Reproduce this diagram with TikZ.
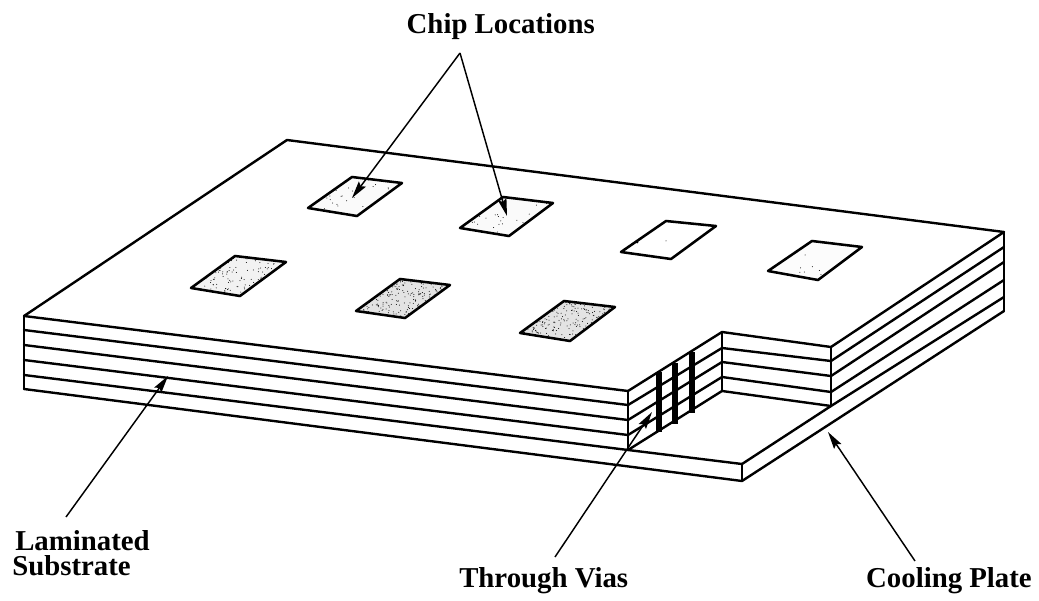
\documentclass[tikz,border=0pt]{standalone}
\usepackage{fontspec}
\setmainfont{Liberation Serif}
\usetikzlibrary{calc,arrows.meta}
\tikzset{
  edgeline/.style={line width=1.8pt,line cap=round,line join=round,black},
  thinline/.style={line width=1.3pt,line cap=round,black},
  viabar/.style={line width=3.8pt,black},
  chipbox/.style={line width=1.9pt,line join=round,black},
  pointer/.style={line width=1.1pt,-{Stealth[length=13pt,width=6.5pt,inset=2pt]},black},
  labeltext/.style={font=\bfseries\fontsize{21.6}{18.75}\selectfont,inner sep=0pt,black},
}
\newcommand{\chipshape}[6]{%
  \coordinate (#1a) at #2; \coordinate (#1b) at #3; \coordinate (#1c) at #4; \coordinate (#1d) at #5;
  \fill[black!#6] (#1a)--(#1b)--(#1c)--(#1d)--cycle;
}
\newcommand{\chipdots}[2]{%
  \foreach \i in {1,...,#2}{%
    \pgfmathsetmacro\uu{rnd}\pgfmathsetmacro\vv{rnd}%
    \fill[black] ($(#1a)+\uu*(#1b)-\uu*(#1a)+\vv*(#1d)-\vv*(#1a)$) circle (0.5);
  }%
  \draw[chipbox] (#1a)--(#1b)--(#1c)--(#1d)--cycle;
}
\begin{document}
\begin{tikzpicture}[x=0.75pt,y=-0.75pt]
\useasboundingbox (0,0) rectangle (1039,600);
\fill[white] (0,0) rectangle (1039,600);
\pgfmathsetseed{4242}

% left edge levels
\coordinate (L0) at (24,316); \coordinate (L1) at (24,330); \coordinate (L2) at (24,345);
\coordinate (L3) at (24,360); \coordinate (L4) at (24,375); \coordinate (L5) at (24,389);
% front corner levels
\coordinate (F0) at (628,391); \coordinate (F1) at (628,405); \coordinate (F2) at (628,420);
\coordinate (F3) at (628,435); \coordinate (F4) at (628,450);
% notch inner levels
\coordinate (E0) at (722,332); \coordinate (E1) at (722,348); \coordinate (E2) at (722,362);
\coordinate (E3) at (722,377); \coordinate (E4) at (722,391);
% notch right levels
\coordinate (D0) at (831,347); \coordinate (D1) at (831,361); \coordinate (D2) at (831,376);
\coordinate (D3) at (831,392); \coordinate (D4) at (831,406);
% right edge levels
\coordinate (C0) at (1004,232); \coordinate (C1) at (1004,247); \coordinate (C2) at (1004,262);
\coordinate (C3) at (1004,280); \coordinate (C4) at (1004,297); \coordinate (C5) at (1004,311);
% others
\coordinate (B) at (287,140);
\coordinate (P1) at (742,464); \coordinate (P2) at (742,481);

% top face outline
\draw[edgeline] (L0)--(B)--(C0)--(D0)--(E0)--(F0)--cycle;
% layers: left block
\foreach \n/\m in {1/1,2/2,3/3}{\draw[edgeline] (L\n)--(F\m);}
\draw[edgeline] (L4)--(F4)--(P1);
\draw[edgeline] (L5)--(P2)--(C5);
\draw[edgeline] (L0)--(L5);
\draw[thinline] (F0)--(F4);
\draw[thinline] (P1)--(P2);
% notch walls
\foreach \n in {1,2,3,4}{\draw[edgeline] (F\n)--(E\n)--(D\n)--(C\n);}
\draw[thinline] (E0)--(E4);
\draw[thinline] (D0)--(D4);
\draw[edgeline] (C0)--(C5);
\draw[edgeline] (D4)--(P1);

% vias
\coordinate (V1a) at (659,372); \coordinate (V1b) at (659,432);
\coordinate (V2a) at (675,363); \coordinate (V2b) at (675,424);
\coordinate (V3a) at (692,352); \coordinate (V3b) at (692,413);
\draw[viabar] (V1a)--(V1b); \draw[viabar] (V2a)--(V2b); \draw[viabar] (V3a)--(V3b);

% chip sites
\chipshape{ca}{(352,177)}{(402,183)}{(357,216)}{(308,208)}{2}
\chipshape{cb}{(503,197)}{(553,203)}{(509,236)}{(460,228)}{2}
\chipshape{cc}{(666,221)}{(716,226)}{(671,259)}{(621,252)}{0}
\chipshape{cd}{(812,241)}{(862,247)}{(818,280)}{(768,271)}{1}
\chipshape{ce}{(235,256)}{(286,262)}{(240,296)}{(191,288)}{5}
\chipshape{cf}{(400,279)}{(450,285)}{(405,318)}{(356,311)}{11}
\chipshape{cg}{(564,301)}{(615,307)}{(570,341)}{(520,333)}{11}
\chipdots{ca}{25}\chipdots{cb}{25}\chipdots{cc}{1}\chipdots{cd}{8}
\chipdots{ce}{90}\chipdots{cf}{150}\chipdots{cg}{150}
\fill[black] (637,242) circle (1.5);

% labels
\node[labeltext,anchor=base east] (chiploc) at (595,33) {Chip Locations};
\node[labeltext,anchor=south west,align=left] (lam) at (12,576) {\hspace*{2.25pt}Laminated\\Substrate};
\node[labeltext,anchor=base west] (vias) at (459,587) {Through Vias};
\node[labeltext,anchor=base east] (cool) at (1032,587) {Cooling Plate};

% pointers
\coordinate (cstart) at (460,53);
\coordinate (ctipa) at (352,198);
\coordinate (ctipb) at (507,216);
\coordinate (lstart) at (66,517);
\coordinate (ltip) at (168,376);
\coordinate (vstart) at (555,557);
\coordinate (vtip) at (652,412);
\coordinate (kstart) at (915,561);
\coordinate (ktip) at (828,432);
\draw[pointer] (cstart)--(ctipa);
\draw[pointer] (cstart)--(ctipb);
\draw[pointer] (lstart)--(ltip);
\draw[pointer] (vstart)--(vtip);
\draw[pointer] (kstart)--(ktip);
\end{tikzpicture}
\end{document}
